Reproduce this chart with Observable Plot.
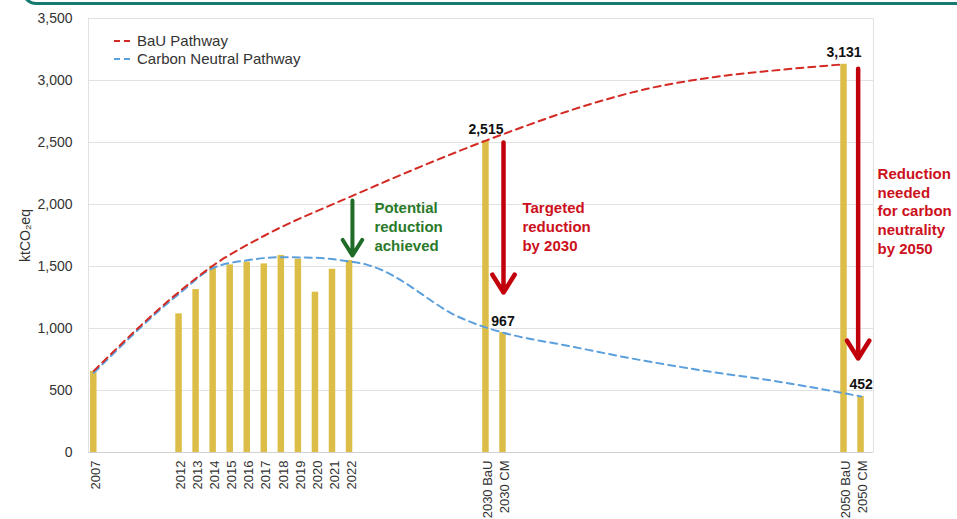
<!DOCTYPE html>
<html><head><meta charset="utf-8">
<script src="https://cdn.jsdelivr.net/npm/d3@7"></script>
<script src="https://cdn.jsdelivr.net/npm/@observablehq/plot@0.6"></script>
<style>
body{margin:0;background:#fff;font-family:"Liberation Sans",Arial,Helvetica,sans-serif;}
#wrap{position:relative;width:957px;height:519px;overflow:hidden;}
#band{position:absolute;left:22px;right:-30px;top:-30px;height:29px;border:3px solid #167a72;border-radius:14px;}
#legend{position:absolute;left:113px;top:32px;font-size:15px;color:#333;line-height:18px;}
#legend div{display:flex;align-items:center;height:18px;}
#legend svg{margin-right:6px;}
#chart{position:absolute;left:0;top:0;}
</style></head><body>
<div id="wrap"><div id="band"></div><div id="chart"></div>
<div id="legend">
<div><svg width="18" height="4"><line x1="1" y1="2" x2="18" y2="2" stroke="#d42a24" stroke-width="2" stroke-dasharray="6,4"/></svg>BaU Pathway</div>
<div><svg width="18" height="4"><line x1="1" y1="2" x2="18" y2="2" stroke="#5b9fdc" stroke-width="2" stroke-dasharray="6,4"/></svg>Carbon Neutral Pathway</div>
</div></div>
<script>
// Categories and their slot positions on the category axis
const categories = ["2007","2012","2013","2014","2015","2016","2017","2018","2019","2020","2021","2022","2030 BaU","2030 CM","2050 BaU","2050 CM"];
const slots      = [0, 5, 6, 7, 8, 9, 10, 11, 12, 13, 14, 15, 23, 24, 44, 45];
const emissions  = [655, 1118, 1314, 1503, 1513, 1535, 1521, 1589, 1559, 1293, 1478, 1548, 2515, 967, 3131, 452];

// BaU pathway (slot position, value)
const bauX = [0, 5, 7, 10, 15, 23, 24.6, 28.55, 32.46, 36.35, 40.28, 44];
const bauY = [658, 1295, 1508, 1748, 2060, 2515, 2597, 2785, 2933, 3027, 3086, 3131];

// Carbon neutral pathway
const cnX = [0, 5, 7, 9, 11, 13, 15, 16, 17, 18, 19, 20, 21, 22, 23, 24, 28, 32, 36, 40, 45];
const cnY = [642, 1280, 1488, 1550, 1575, 1570, 1540, 1515, 1465, 1390, 1300, 1205, 1120, 1058, 1008, 967, 855, 747, 655, 575, 452];

const yTicks = [0, 500, 1000, 1500, 2000, 2500, 3000, 3500];

// Value labels
const labelSlots = [23, 24, 44, 45];
const labelValues = [2515, 967, 3131, 452];

// Annotations
const greenArrow = [{x: 15.17, y1: 2032, y2: 1589}];
const redArrows = [{x: 24.03, y1: 2500, y2: 1290}, {x: 44.83, y1: 3094, y2: 758}];
const noteX = [16.46, 25.14, 45.97];
const noteY = [2036, 2036, 2315];
const noteText = ["Potential\nreduction\nachieved", "Targeted\nreduction\nby 2030", "Reduction\nneeded\nfor carbon\nneutrality\nby 2050"];
const noteColor = ["#2a7a2a", "#cc1020", "#cc1020"];

const bars = slots.map((s, i) => ({slot: s, label: categories[i], value: emissions[i]}));
const bau = bauX.map((x, i) => ({x, y: bauY[i]}));
const cn = cnX.map((x, i) => ({x, y: cnY[i]}));
const labels = labelSlots.map((s, i) => ({x: s, y: labelValues[i], t: d3.format(",")(labelValues[i])}));
const notes = noteX.map((x, i) => ({x, y: noteY[i], t: noteText[i], c: noteColor[i]}));
const labelBySlot = new Map(slots.map((s, i) => [s, categories[i]]));

const chart = Plot.plot({
  width: 957, height: 519,
  marginLeft: 88, marginRight: 84, marginTop: 18, marginBottom: 67,
  style: {fontFamily: "'Liberation Sans', Arial, sans-serif", background: "transparent"},
  x: {type: "linear", domain: [-0.31, 45.73]},
  y: {domain: [0, 3500]},
  marks: [
    Plot.gridY(yTicks, {stroke: "#e2e2e2", strokeOpacity: 1}),
    Plot.ruleX([-0.31, 45.73], {stroke: "#e2e2e2"}),
    Plot.rectY(bars, {x1: d => d.slot - 0.19, x2: d => d.slot + 0.19, y: "value", fill: "#dcbd48"}),
    Plot.ruleY([0], {stroke: "#d0d0d0"}),
    Plot.line(cn, {x: "x", y: "y", stroke: "#5b9fdc", strokeWidth: 2, strokeDasharray: "7,5", curve: "monotone-x"}),
    Plot.line(bau, {x: "x", y: "y", stroke: "#d42a24", strokeWidth: 2, strokeDasharray: "7,5", curve: "monotone-x"}),
    Plot.arrow(greenArrow, {x: "x", y1: "y1", y2: "y2", stroke: "#1f6b27", strokeWidth: 4, headLength: 7, headAngle: 64}),
    Plot.arrow(redArrows, {x: "x", y1: "y1", y2: "y2", stroke: "#c2000b", strokeWidth: 4.5, headLength: 7, headAngle: 64}),
    Plot.text(notes, {x: "x", y: "y", text: "t", fill: d => d.c, textAnchor: "start", lineAnchor: "top", lineHeight: 1.25, fontSize: 15, fontWeight: "bold"}),
    Plot.text(labels, {x: "x", y: "y", text: "t", dy: -7, lineAnchor: "bottom", fontSize: 14, fontWeight: "bold", fill: "#111"}),
    Plot.axisY(yTicks, {tickFormat: d3.format(","), tickSize: 0, tickPadding: 16, fontSize: 14, color: "#333",
      label: "ktCO₂eq", labelAnchor: "center", labelArrow: "none", labelOffset: 68}),
    Plot.axisX(slots, {tickFormat: d => labelBySlot.get(d), tickSize: 0, tickPadding: 8, tickRotate: -90, fontSize: 13, dx: 2, color: "#333", label: null})
  ]
});
document.getElementById("chart").appendChild(chart);
</script>
</body></html>
